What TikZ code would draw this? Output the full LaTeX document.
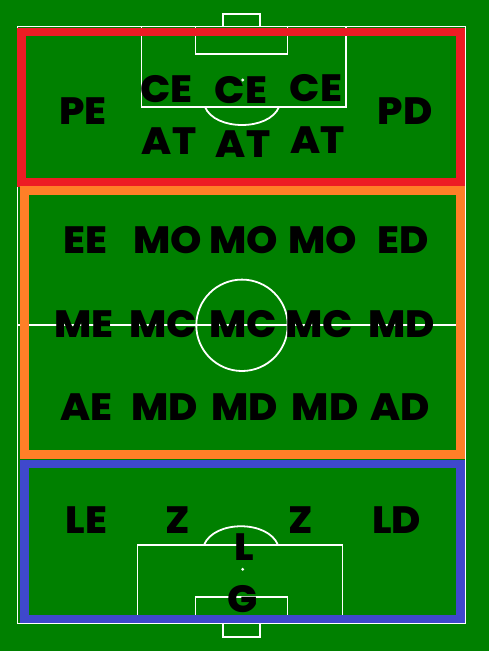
\documentclass[tikz,border=0pt]{standalone}
\usepackage{fontspec}
\setmainfont{Poppins}[BoldFont={Poppins ExtraBold},BoldFeatures={FakeStretch=1.05}]
\definecolor{pitch}{RGB}{0,128,0}
\definecolor{zonered}{RGB}{237,28,36}
\definecolor{zoneorange}{RGB}{255,127,39}
\definecolor{zoneblue}{RGB}{63,72,204}
\begin{document}
\begin{tikzpicture}[x=1pt,y=1pt,yscale=-1,xscale=1,
  pitchline/.style={draw=white,line width=1.8pt},
  zone/.style={line width=8.5pt},
  posn/.style={font=\fontsize{38}{38}\selectfont\bfseries,text=black,inner sep=0pt}]
\useasboundingbox (0,0) rectangle (489,651);
%Shape: Rectangle [background]
\fill [pitch] (0,0) rectangle (489,651);

%Shape: Rectangle [outline]
\draw [pitchline] (17.5,26.5) rectangle (465.5,623.5);
%Shape: Rectangle [top goal]
\draw [pitchline] (223,26.5) -- (223,14) -- (260,14) -- (260,26.5);
%Shape: Rectangle [bottom goal]
\draw [pitchline] (223,623.5) -- (223,637) -- (260,637) -- (260,623.5);
%Shape: Rectangle [top penalty area]
\draw [pitchline] (141.5,26.5) -- (141.5,107) -- (346,107) -- (346,26.5);
\draw [pitchline] (195.5,26.5) -- (195.5,54) -- (287.5,54) -- (287.5,26.5);
%Curve Lines [top arc]
\draw [pitchline] (205,107) .. controls (215,131) and (269,131) .. (279,107);
%Shape: Circle [top spot]
\fill [white] (242.7,80) circle (1.6);
%Shape: Rectangle [bottom penalty area]
\draw [pitchline] (137.5,623.5) -- (137.5,545) -- (342.5,545) -- (342.5,623.5);
\draw [pitchline] (195.5,623.5) -- (195.5,597) -- (287.5,597) -- (287.5,623.5);
%Curve Lines [bottom arc]
\draw [pitchline] (204,545) .. controls (214,520) and (268,520) .. (278,545);
%Shape: Circle [bottom spot]
\fill [white] (242.7,569.3) circle (1.6);
%Straight Lines [halfway]
\draw [pitchline] (17.5,325.3) -- (465.5,325.3);
%Shape: Circle [centre circle]
\draw [pitchline] (242,325.3) circle (45.7);

%Shape: Rectangle [attack zone]
\draw [zone,zonered] (21.5,32) rectangle (460.5,182.3);
%Shape: Rectangle [midfield zone]
\draw [zone,zoneorange] (24.3,190.7) rectangle (460.3,454.3);
%Shape: Rectangle [defence zone]
\draw [zone,zoneblue] (24.5,463.8) rectangle (460.3,619.2);

% Text Node
\node [posn] (pe) at (83,111) {PE};
\node [posn] (pd) at (405.3,111) {PD};
\node [posn] (ce1) at (166.5,89) {CE};
\node [posn] (ce2) at (241,90) {CE};
\node [posn] (ce3) at (316,88) {CE};
\node [posn] (at1) at (169,141) {AT};
\node [posn] (at2) at (243,144) {AT};
\node [posn] (at3) at (317.5,139.7) {AT};
% Text Node
\node [posn] (ee) at (85,239.7) {EE};
\node [posn] (mo1) at (167.5,239.7) {MO};
\node [posn] (mo2) at (244,239.7) {MO};
\node [posn] (mo3) at (323,239.7) {MO};
\node [posn] (ed) at (403,239.7) {ED};
\node [posn] (me) at (84,323.7) {ME};
\node [posn] (mc1) at (163.3,323.7) {MC};
\node [posn] (mc2) at (243,323.7) {MC};
\node [posn] (mc3) at (319.3,323.7) {MC};
\node [posn] (md) at (401.7,323.7) {MD};
\node [posn] (ae) at (86.7,407) {AE};
\node [posn] (md1) at (165,407) {MD};
\node [posn] (md2) at (245,407) {MD};
\node [posn] (md3) at (325.3,407) {MD};
\node [posn] (ad) at (400.5,407) {AD};
% Text Node
\node [posn] (le) at (86.3,520.3) {LE};
\node [posn] (z1) at (177.5,520.5) {Z};
\node [posn] (z2) at (300.5,520.5) {Z};
\node [posn] (ld) at (396.5,520.3) {LD};
\node [posn] (l) at (243.8,546.7) {L};
\node [posn] (g) at (242.5,599.5) {G};

\end{tikzpicture}
\end{document}
